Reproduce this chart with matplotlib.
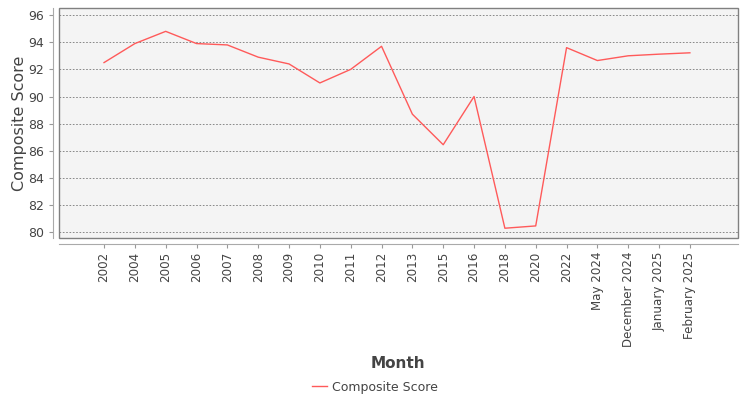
import matplotlib
matplotlib.use("Agg")
import matplotlib.pyplot as plt
from matplotlib.patches import Rectangle

# data
months = ["2002", "2004", "2005", "2006", "2007", "2008", "2009", "2010",
          "2011", "2012", "2013", "2015", "2016", "2018", "2020", "2022",
          "May 2024", "December 2024", "January 2025", "February 2025"]
scores = [92.5, 93.9, 94.8, 93.9, 93.8, 92.9, 92.4, 91.0,
          92.0, 93.7, 88.7, 86.45, 90.0, 80.3, 80.47, 93.6,
          92.65, 93.0, 93.12, 93.22]
yticks = [80, 82, 84, 86, 88, 90, 92, 94, 96]

fig = plt.figure(figsize=(7.5, 4), dpi=100)
ax = fig.add_axes([59 / 750, 1 - 238 / 400, 679 / 750, 230 / 400])
ax.set_facecolor("#f4f4f4")

# jfreechart style: box around plot + axis lines offset outward
# (spine positions first, set_position resets the tick labels)
for s in ["top", "right"]:
    ax.spines[s].set_visible(False)
for s in ["left", "bottom"]:
    ax.spines[s].set_position(("outward", 4))
    ax.spines[s].set_color("#aaaaaa")
ax.add_patch(Rectangle((0, 0), 1, 1, transform=ax.transAxes, fill=False,
                       edgecolor="#808080", lw=1, clip_on=False, zorder=5))

x = list(range(len(months)))
line, = ax.plot(x, scores, color="#ff5a5a", lw=1, label="Composite Score")

ax.set_xlim(-1.46, len(months) - 1 + 1.56)
ax.set_ylim(79.58, 96.52)
ax.set_yticks(yticks)
ax.set_xticks(x)
ax.set_xticklabels(months, rotation=90, fontsize=8.6, color="#444444")
ax.tick_params(axis="y", labelsize=9, labelcolor="#444444", length=3, color="#999999")
ax.tick_params(axis="x", length=3, color="#999999", pad=3)

ax.grid(axis="y", color="#777777", ls=(0, (2, 2)), lw=0.6)
ax.set_axisbelow(True)

fig.text(20 / 750, 1 - 123 / 400, "Composite Score", rotation=90, fontsize=11.5,
         color="#444444", ha="center", va="center")
fig.text(398 / 750, 1 - 364 / 400, "Month", fontsize=11, fontweight="bold",
         color="#444444", ha="center", va="center")

fig.legend(handles=[line], loc="center", bbox_to_anchor=(375 / 750, 1 - 387 / 400),
           frameon=False, fontsize=9, handlelength=1.2, handletextpad=0.4,
           labelcolor="#444444")

fig.savefig("out.png", dpi=100)
